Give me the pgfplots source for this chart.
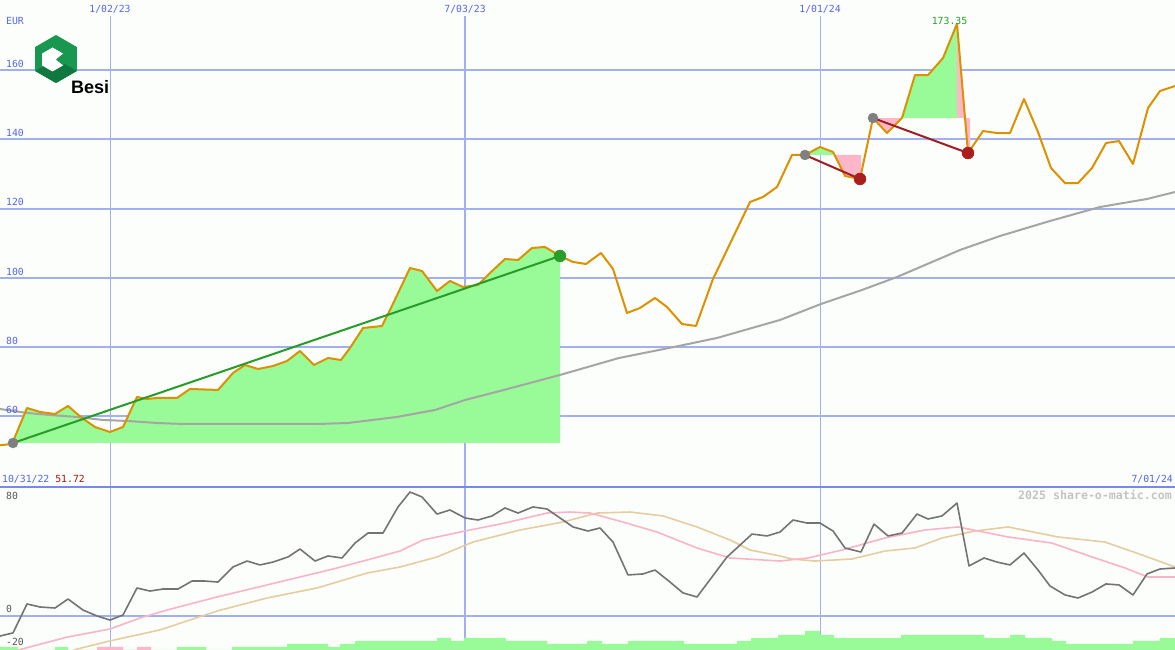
\documentclass[border=0pt]{standalone}
\usepackage{pgfplots}
\pgfplotsset{compat=1.18}
\usepackage{fontspec}
\newfontfamily\monof{DejaVu Sans Mono}
\newfontfamily\logofont{Liberation Sans}
\definecolor{bg}{RGB}{252,254,252}
\definecolor{gridc}{RGB}{160,176,240}
\definecolor{sepc}{RGB}{120,136,235}
\definecolor{bluetxt}{RGB}{85,100,240}
\definecolor{pricec}{RGB}{221,145,0}
\definecolor{mac}{RGB}{165,165,165}
\definecolor{fillg}{RGB}{152,251,152}
\definecolor{fillp}{RGB}{255,182,200}
\definecolor{trendg}{RGB}{40,155,40}
\definecolor{trendr}{RGB}{160,30,35}
\definecolor{dotr}{RGB}{170,30,30}
\definecolor{dotg}{RGB}{40,160,40}
\definecolor{dotgray}{RGB}{128,128,128}
\definecolor{oscg}{RGB}{115,115,115}
\definecolor{oscp}{RGB}{250,180,200}
\definecolor{osct}{RGB}{230,205,160}
\definecolor{wm}{RGB}{195,195,195}
\definecolor{logog}{RGB}{25,150,80}
\definecolor{logod}{RGB}{15,120,60}
\definecolor{darkredtxt}{RGB}{160,20,20}
\definecolor{greentxt}{RGB}{40,160,40}
\definecolor{lbltxt}{RGB}{85,85,85}
\newcommand\lbl{\fontsize{9.8}{10}\monof}
\begin{document}
\begin{tikzpicture}[x=1pt,y=1pt]
\useasboundingbox (0,0) rectangle (1175,650);
\fill[bg] (0,0) rectangle (1175,650);
% ---------- top price panel ----------
\begin{axis}[at={(0pt,163pt)}, anchor=south west, scale only axis,
  width=1175pt, height=487pt, xmin=0, xmax=1175, ymin=39.65, ymax=180.2,
  hide axis, clip=true, no markers]
  \draw[gridc, line width=2pt] (axis cs:0,60) -- (axis cs:1175,60);
  \draw[gridc, line width=2pt] (axis cs:0,80) -- (axis cs:1175,80);
  \draw[gridc, line width=2pt] (axis cs:0,100) -- (axis cs:1175,100);
  \draw[gridc, line width=2pt] (axis cs:0,120) -- (axis cs:1175,120);
  \draw[gridc, line width=2pt] (axis cs:0,140) -- (axis cs:1175,140);
  \draw[gridc, line width=2pt] (axis cs:0,160) -- (axis cs:1175,160);
  \draw[gridc, line width=1pt] (axis cs:110,39.65) -- (axis cs:110,175.58);
  \draw[gridc, line width=2pt] (axis cs:465,39.65) -- (axis cs:465,175.58);
  \draw[gridc, line width=1pt] (axis cs:820,39.65) -- (axis cs:820,175.58);
  % fills
  \addplot[fill=fillg, draw=none] coordinates {(13,52.35)(27,62.45)(40,61.30)(55,60.72)(68,63.03)(82,59.57)(95,56.97)(110,55.53)(123,56.97)(137,65.63)(147,65.05)(157,65.34)(177,65.34)(190,67.94)(218,67.65)(233,72.55)(245,74.86)(258,73.71)(273,74.57)(287,76.02)(300,78.90)(314,74.86)(328,76.88)(341,76.31)(350,79.77)(363,85.54)(382,86.12)(390,90.74)(410,102.86)(422,101.99)(437,96.22)(450,99.10)(463,97.37)(478,97.95)(490,101.41)(505,105.45)(518,105.16)(532,108.63)(545,108.92)(560,106.32)(560,52.35)};
  \addplot[fill=fillg, draw=none] coordinates {(805,135.47)(820,137.78)(833,136.33)(834.5,135.47)};
  \addplot[fill=fillp, draw=none] coordinates {(834.5,135.47)(845,129.41)(860,128.54)(861,129.9)(861,135.47)};
  \addplot[fill=fillp, draw=none] coordinates {(873,146.14)(887,141.81)(902,146.14)};
  \addplot[fill=fillg, draw=none] coordinates {(902,146.14)(915,158.54)(928,158.54)(943,163.45)(957,173.35)(957,146.14)};
  \addplot[fill=fillp, draw=none] coordinates {(957,173.35)(965,146.21)(957,146.14)};
  \addplot[fill=fillp, draw=none] coordinates {(965,146.14)(970,146.14)(970,136.88)(968,136.03)};
  % long moving average
  \addplot[mac, line width=2pt, line join=round] coordinates {(0,62.16)(27,61.01)(50,60.43)(77,59.86)(103,58.99)(128,58.70)(157,58.12)(183,57.84)(318,57.84)(348,58.12)(397,59.86)(435,61.88)(465,64.76)(500,67.36)(560,71.98)(619,76.88)(674,80.06)(717,82.66)(780,87.85)(821,92.47)(862,96.51)(897,100.26)(960,108.05)(1000,112.09)(1050,116.42)(1100,120.46)(1147,122.77)(1175,124.79)};
  % price
  \addplot[pricec, line width=2pt, line join=round] coordinates {(0,51.72)(12,52.06)(27,62.45)(40,61.30)(55,60.72)(68,63.03)(82,59.57)(95,56.97)(110,55.53)(123,56.97)(137,65.63)(147,65.05)(157,65.34)(177,65.34)(190,67.94)(218,67.65)(233,72.55)(245,74.86)(258,73.71)(273,74.57)(287,76.02)(300,78.90)(314,74.86)(328,76.88)(341,76.31)(350,79.77)(363,85.54)(382,86.12)(390,90.74)(410,102.86)(422,101.99)(437,96.22)(450,99.10)(463,97.37)(478,97.95)(490,101.41)(505,105.45)(518,105.16)(532,108.63)(545,108.92)(560,106.32)(573,104.59)(586,104.01)(601,107.19)(613,102.57)(627,89.87)(640,91.31)(655,94.20)(667,91.60)(682,86.69)(696,86.12)(713,99.68)(727,108.05)(750,121.90)(763,123.35)(777,126.23)(792,135.47)(805,135.47)(820,137.78)(833,136.33)(845,129.41)(860,128.54)(873,146.14)(887,141.81)(902,146.14)(915,158.54)(928,158.54)(943,163.45)(957,173.35)(968,136.03)(983,142.38)(997,141.81)(1010,141.81)(1024,151.62)(1038,142.09)(1051,131.70)(1065,127.37)(1078,127.37)(1092,131.70)(1106,138.92)(1119,139.49)(1133,132.86)(1148,149.03)(1160,153.93)(1175,155.37)};
  % trend lines
  \addplot[trendg, line width=2pt] coordinates {(13,52.35)(560,106.32)};
  \addplot[trendr, line width=2pt] coordinates {(805,135.47)(860,128.54)};
  \addplot[trendr, line width=2pt] coordinates {(873,146.14)(968,136.03)};
  % dots
  \addplot[only marks, mark=*, mark size=5pt, mark options={fill=dotgray, draw=dotgray}] coordinates {(13,52.35)(805,135.47)(873,146.14)};
  \addplot[only marks, mark=*, mark size=6pt, mark options={fill=dotr, draw=dotr}] coordinates {(860,128.54)(968,136.03)};
  \addplot[only marks, mark=*, mark size=6pt, mark options={fill=dotg, draw=dotg}] coordinates {(560,106.32)};
  \node[anchor=base, text=greentxt, font=\lbl] at (axis cs:949.5,173.1) {173.35};
\end{axis}
% ---------- volume + grid of lower panel ----------
\begin{axis}[at={(0pt,0pt)}, anchor=south west, scale only axis,
  width=1175pt, height=163pt, xmin=0, xmax=1175, ymin=0, ymax=163,
  hide axis, clip=true, no markers]
  \draw[gridc, line width=2pt] (axis cs:0,34.3) -- (axis cs:1175,34.3);
  \draw[gridc, line width=1pt] (axis cs:110,0) -- (axis cs:110,163);
  \draw[gridc, line width=2pt] (axis cs:465,0) -- (axis cs:465,163);
  \draw[gridc, line width=1pt] (axis cs:820,0) -- (axis cs:820,163);
  \addplot[const plot, fill=fillg, draw=none] coordinates {(0,3)(18,0)(55,3)(68,0)(177,3)(206,0)(232,3)(287,6)(328,3)(340,6)(355,9)(437,12)(451,9)(464,12)(506,9)(547,6)(587,9)(602,6)(628,9)(684,6)(737,9)(751,12)(778,15)(805,19)(820,15)(834,12)(901,15)(984,12)(1010,15)(1025,12)(1052,9)(1066,6)(1133,9)(1160,12)(1175,12)} \closedcycle;
  \addplot[const plot, fill=fillp, draw=none] coordinates {(97,3)(123,0)(137,3)(151,0)} \closedcycle;
\end{axis}
% ---------- oscillator panel ----------
\begin{axis}[at={(0pt,0pt)}, anchor=south west, scale only axis,
  width=1175pt, height=163pt, xmin=0, xmax=1175, ymin=-23.66, ymax=88.76,
  hide axis, clip=true, no markers]
  \addplot[osct, line width=1.6pt, line join=round] coordinates {(50,-30.6)(77,-23.0)(110,-17.4)(160,-9.8)(217,3.2)(267,12.2)(317,19.1)(367,29.4)(400,33.6)(437,40.5)(473,50.8)(520,59.1)(563,64.6)(597,70.8)(630,71.5)(663,68.8)(697,61.2)(730,52.2)(750,45.3)(780,41.2)(792,39.1)(815,37.7)(852,39.1)(885,44.6)(915,46.7)(942,53.6)(975,58.4)(1008,61.2)(1058,54.3)(1105,50.8)(1142,41.9)(1175,33.6)};
  \addplot[oscp, line width=1.6pt, line join=round] coordinates {(0,-27.1)(22,-23.0)(67,-14.8)(110,-9.2)(140,-1.6)(167,3.9)(217,12.9)(267,21.2)(300,26.7)(333,32.2)(367,38.4)(400,44.6)(423,52.2)(465,58.4)(505,63.9)(547,70.8)(570,71.5)(590,70.8)(623,64.6)(657,57.7)(697,46.7)(730,39.8)(780,37.7)(808,39.8)(842,45.3)(885,53.6)(925,59.1)(958,61.2)(1008,54.3)(1052,50.1)(1092,40.5)(1125,32.9)(1148,26.7)(1175,26.7)};
  \addplot[oscg, line width=1.6pt, line join=round] coordinates {(0,-14.0)(13,-11.9)(27,8.1)(40,6.0)(55,5.3)(68,11.5)(83,3.9)(97,-0.2)(110,-3.0)(123,0.5)(137,19.1)(150,17.0)(163,18.4)(178,18.4)(192,23.9)(205,23.9)(218,23.2)(233,33.6)(247,37.7)(260,35.0)(273,37.0)(288,40.5)(300,46.0)(315,37.7)(328,41.2)(342,39.8)(355,50.1)(368,57.0)(383,57.0)(398,75.0)(410,85.3)(422,81.9)(437,70.1)(450,72.9)(465,67.4)(478,66.0)(492,68.8)(505,74.3)(518,70.8)(533,75.0)(547,73.6)(560,67.4)(573,61.2)(588,58.4)(600,60.5)(613,50.8)(628,28.1)(643,28.8)(655,31.5)(670,23.2)(683,15.7)(697,12.9)(712,26.7)(727,40.5)(738,47.4)(752,56.3)(767,55.0)(780,57.7)(793,66.0)(807,63.9)(820,63.9)(833,58.4)(845,46.7)(861,43.9)(874,63.2)(888,55.0)(902,57.0)(917,70.1)(928,66.7)(942,68.8)(957,77.7)(969,34.3)(984,39.8)(997,37.0)(1010,35.0)(1024,43.2)(1038,31.5)(1050,20.5)(1065,14.3)(1078,12.2)(1092,16.3)(1106,21.9)(1119,21.2)(1133,14.3)(1147,28.8)(1160,32.2)(1175,32.9)};
\end{axis}
% separator
\draw[sepc, line width=2.5pt] (0,163) -- (1175,163);
% logo
\fill[logog] (56,615) -- (76.8,603) -- (76.8,579) -- (56,567) -- (35.2,579) -- (35.2,603) -- cycle;
\fill[logod] (56,591) -- (76.8,579) -- (56,567) -- (35.2,579) -- cycle;
\fill[white] (52.5,602.5) -- (62.9,596.5) -- (62.9,584.5) -- (52.5,578.5) -- (42.1,584.5) -- (42.1,596.5) -- cycle;
\fill[logog] (64,597) -- (56,590.5) -- (64,584) -- cycle;
\node[anchor=base west, inner sep=0pt, font=\logofont\bfseries\fontsize{18}{18}\selectfont] at (71,556.7) {Besi};
% labels
\begin{scope}[every node/.style={inner sep=0pt, font=\lbl}]
\node[anchor=base west, text=bluetxt] at (6,625) {EUR};
\node[anchor=base west, text=bluetxt] at (6,582.7) {160};
\node[anchor=base west, text=bluetxt] at (6,513.4) {140};
\node[anchor=base west, text=bluetxt] at (6,444.1) {120};
\node[anchor=base west, text=bluetxt] at (6,374.8) {100};
\node[anchor=base west, text=bluetxt] at (6,305.5) {80};
\node[anchor=base west, text=bluetxt] at (6,236.2) {60};
\node[anchor=base, text=bluetxt] at (110,637.3) {1/02/23};
\node[anchor=base, text=bluetxt] at (465,637.3) {7/03/23};
\node[anchor=base, text=bluetxt] at (820,637.3) {1/01/24};
\node[anchor=base west] at (2,167.3) {\textcolor{bluetxt}{10/31/22} \textcolor{darkredtxt}{51.72}};
\node[anchor=base east, text=bluetxt] at (1173,167.3) {7/01/24};
\node[anchor=base east, text=wm, font=\fontsize{11.6}{12}\monof\bfseries] at (1172,150) {2025 share-o-matic.com};
\node[anchor=base west, text=lbltxt] at (6,150) {80};
\node[anchor=base west, text=lbltxt] at (6,37.3) {0};
\node[anchor=base west, text=lbltxt] at (6,4.3) {-20};
\end{scope}
\end{tikzpicture}
\end{document}
